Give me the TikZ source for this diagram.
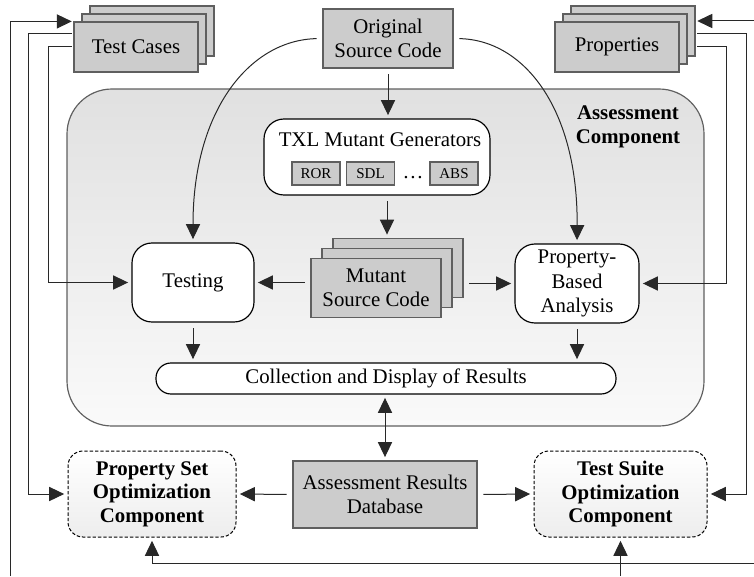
\documentclass[tikz,border=0pt]{standalone}
\usepackage{fontspec}
\setmainfont{Liberation Serif}
\usepackage{tikz}
\usetikzlibrary{arrows.meta,calc,positioning}
\definecolor{boxgray}{RGB}{204,204,204}
\definecolor{edgegray}{RGB}{95,95,95}
\definecolor{linegray}{RGB}{40,40,40}

\begin{document}
\begin{tikzpicture}[x=0.6pt, y=-0.6pt,
	font=\fontsize{12.5}{14.5}\selectfont,
	% Node styles
	graybox/.style={
		rectangle,
		draw=edgegray,
		fill=boxgray,
		line width=0.7pt,
		align=center
	},
	stackbox/.style={
		graybox,
		minimum width=74.4pt,
		minimum height=30pt
	},
	codebox/.style={
		graybox,
		minimum width=78pt,
		minimum height=35.4pt
	},
	smallbox/.style={
		graybox,
		minimum width=28.8pt,
		minimum height=13.8pt,
		inner sep=0pt,
		font=\fontsize{9}{10}\selectfont
	},
	procbox/.style={
		rectangle,
		rounded corners=12pt,
		draw=black,
		fill=white,
		line width=0.7pt,
		align=center
	},
	optbox/.style={
		rectangle,
		rounded corners=9pt,
		draw=black,
		dash pattern=on 2pt off 1.2pt,
		line width=0.6pt,
		top color=white,
		bottom color=black!7,
		minimum width=#1,
		minimum height=51.6pt,
		align=center,
		font=\fontsize{12.5}{14}\selectfont\bfseries
	},
	arrow/.style={
		-{Triangle[length=9pt,width=8.5pt]},
		line width=0.6pt,
		draw=linegray,
		shorten >=2pt,
		shorten <=3.5pt
	},
	dblarrow/.style={
		{Triangle[length=9pt,width=8.5pt]}-{Triangle[length=9pt,width=8.5pt]},
		line width=0.6pt,
		draw=linegray,
		shorten >=2pt,
		shorten <=2pt
	}
	]
	
	\useasboundingbox (0,0) rectangle (754,576);
	
	% Assessment component
	\node[rectangle, rounded corners=27pt, draw=edgegray, line width=0.7pt,
		top color=black!12, bottom color=black!2,
		minimum width=382.2pt, minimum height=202.2pt] (assess) at (385.5,257.5) {};
	\node[font=\fontsize{12.5}{14}\selectfont\bfseries, align=center] (assesstitle) at (628,127) {Assessment\\Component};
	
	% Inputs
	\node[codebox] (osc) at (388,38.5) {Original\\Source Code};
	
	\node[stackbox] (tcback) at (152,31) {};
	\node[stackbox] (tcmid) at (144,39) {};
	\node[stackbox] (tcfront) at (136,47) {Test Cases};
	
	\node[stackbox] (prback) at (633,31) {};
	\node[stackbox] (prmid) at (625,39) {};
	\node[stackbox] (prfront) at (617,47) {Properties};
	
	% Mutant generators
	\node[procbox, minimum width=135.6pt, minimum height=45.6pt] (txl) at (377,157) {};
	\node (txltitle) at (380,140) {TXL Mutant Generators};
	\node[smallbox] (ror) at (316,173.5) {ROR};
	\node[smallbox] (sdl) at (370.5,173.5) {SDL};
	\node (dots) at (413,178) {\dots};
	\node[smallbox] (abs) at (454,173.5) {ABS};
	
	\node[codebox] (mutback) at (398,268) {};
	\node[codebox] (mutmid) at (387,278) {};
	\node[codebox] (mutfront) at (376,288) {Mutant\\Source Code};
	
	% Analyses
	\node[procbox, minimum width=73.2pt, minimum height=47.4pt] (testing) at (193,282.5) {Testing};
	\node[procbox, minimum width=74.4pt, minimum height=47.4pt] (pba) at (577,283.5) {Property-\\Based\\Analysis};
	\node[procbox, rounded corners=9pt, minimum width=276pt, minimum height=18.6pt] (results) at (386,378.5) {Collection and Display of Results};
	
	% Database and optimization
	\node[graybox, minimum width=110.4pt, minimum height=40.2pt] (db) at (385,494.5) {Assessment Results\\Database};
	\node[optbox=100.8pt] (pso) at (152,494) {Property Set\\Optimization\\Component};
	\node[optbox=103.8pt] (tso) at (620.5,494) {Test Suite\\Optimization\\Component};
	
	% Free ends at the picture border
	\coordinate (leftend) at (10,576);
	\coordinate (rightend) at (754,21);
	\coordinate (bottomright) at (754,563);
	\coordinate (bottomend) at (621,576);
	
	% Flow inside the assessment component
	\draw[arrow] (osc.south) -- (osc.south |- txl.north);
	\draw[arrow] (txl.south -| mutmid) -- (mutmid |- mutback.north);
	\draw[arrow] (mutfront.west |- testing) -- (testing.east);
	\draw[arrow] (mutback.east |- pba) -- (pba.west);
	\draw[arrow] (testing.south) -- (testing.south |- results.north);
	\draw[arrow] (pba.south) -- (pba.south |- results.north);
	\draw[dblarrow] (results.south -| db) -- (db.north);
	\draw[arrow] (db.west) -- (pso.east);
	\draw[arrow] (db.east) -- (tso.west);
	
	% Source code to analyses
	\draw[arrow] (osc.west) .. controls (250,40) and (193,110) .. (testing.north);
	\draw[arrow] (osc.east) .. controls (525,40) and (578,110) .. (pba.north);
	
	% Test cases
	\draw[arrow, shorten <=1pt] (tcfront.west) -- ++(-25,0) |- (testing.west);
	\draw[arrow, shorten <=1pt] ($(tcfront.west)+(0,-13)$) -- ++(-45,0) |- (pso.west);
	\draw[arrow, shorten >=1pt, shorten <=0pt] (leftend) |- (tcfront.north west);
	
	% Properties
	\draw[arrow, shorten >=1pt, shorten <=0pt] (rightend) -- (rightend -| prback.east);
	\draw[arrow, shorten <=1pt] ($(prback.east)+(0,3)$) -- ++(51,0) |- (tso.east);
	\draw[arrow, shorten <=1pt] ($(prback.east)+(0,16)$) -- ++(31,0) |- (pba.east);
	
	% Feedback along the bottom
	\draw[arrow, shorten <=0pt] (bottomright) -| (pso.south);
	\draw[arrow, shorten <=0pt] (tso.south |- bottomend) -- (tso.south);
	
\end{tikzpicture}
\end{document}
